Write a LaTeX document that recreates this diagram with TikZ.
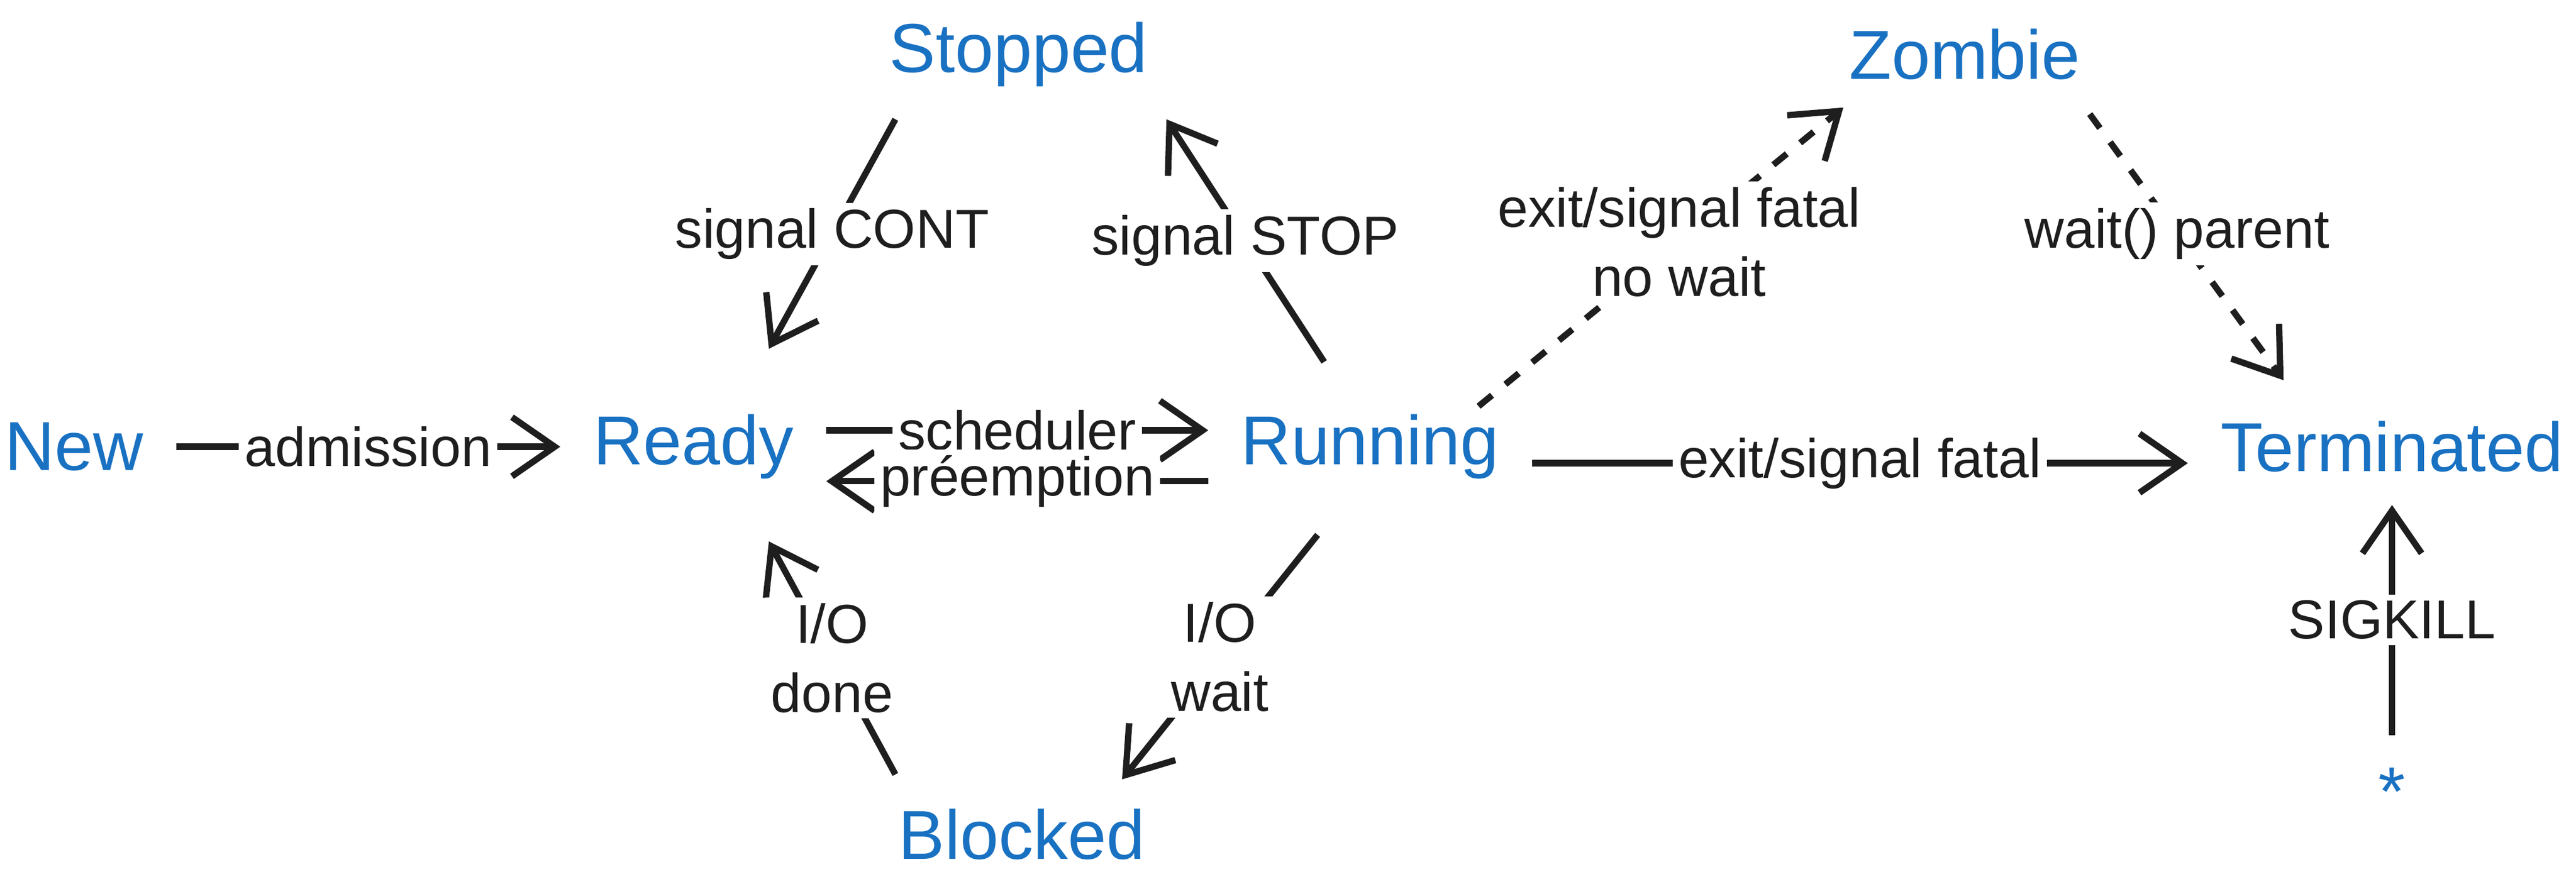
\documentclass[tikz,border=0pt]{standalone}
\usepackage{fontspec}
\setmainfont{Liberation Sans}
\usetikzlibrary{arrows.meta}
\definecolor{stateblue}{HTML}{1971C2}
\definecolor{inkgray}{HTML}{1E1E1E}
\tikzset{
  state/.style={text=stateblue, font=\fontsize{12}{14}\selectfont, inner sep=0pt, outer sep=0.2cm},
  trans/.style={draw=inkgray, line width=1.1pt, -{Straight Barb[length=2.6mm,width=3.6mm]}},
  lbl/.style={fill=white, text=inkgray, font=\fontsize{9.5}{12}\selectfont, inner sep=1pt, align=center}
}
\begin{document}
\begin{tikzpicture}
  \useasboundingbox[fill=white] (0,0) rectangle (15.68,-5.44);

  % states
  \node[state] (new) at (0.45,-2.72) {New};
  \node[state] (ready) at (4.22,-2.72) {Ready};
  \node[state] (running) at (8.34,-2.72) {Running};
  \node[state] (terminated) at (14.56,-2.72) {Terminated};
  \node[state] (stopped) at (6.20,-0.33) {Stopped};
  \node[state] (zombie) at (11.96,-0.33) {Zombie};
  \node[state] (blocked) at (6.22,-5.08) {Blocked};
  \node[state] (star) at (14.56,-4.82) {*};

  % transitions
  \draw[trans] (new) -- node[lbl] {admission} (ready);
  \draw[trans] ([yshift=0.1cm]ready.east) -- node[lbl] {scheduler} ([yshift=0.1cm]running.west);
  \draw[trans] ([yshift=-0.21cm]running.west) -- node[lbl] {préemption} ([yshift=-0.21cm]ready.east);
  \draw[trans] ([shift={(-0.28,0.12)}]running.north) -- node[lbl] {signal STOP} ([xshift=0.9cm]stopped.south);
  \draw[trans] ([xshift=-0.75cm]stopped.south) -- node[lbl] {signal CONT} ([shift={(0.46,0.2)}]ready.north);
  \draw[trans] ([shift={(-0.32,-0.14)}]running.south) -- node[lbl] {I/O\\wait} ([shift={(0.61,-0.02)}]blocked.north);
  \draw[trans] ([shift={(-0.77,0.01)}]blocked.north) -- node[lbl] {I/O\\done} ([shift={(0.46,-0.18)}]ready.south);
  \draw[trans, dashed] ([shift={(0.66,-0.15)}]running.north) -- node[lbl, pos=0.55] {exit/signal fatal\\no wait} ([shift={(-0.74,0.03)}]zombie.south);
  \draw[trans, dashed] ([shift={(0.76,-0.01)}]zombie.south) -- node[lbl, pos=0.45] {wait() parent} ([shift={(-0.66,0.05)}]terminated.north);
  \draw[trans] ([yshift=-0.1cm]running.east) -- node[lbl] {exit/signal fatal} ([yshift=-0.1cm]terminated.west);
  \draw[trans] (star) -- node[lbl] {SIGKILL} (terminated);
\end{tikzpicture}
\end{document}
